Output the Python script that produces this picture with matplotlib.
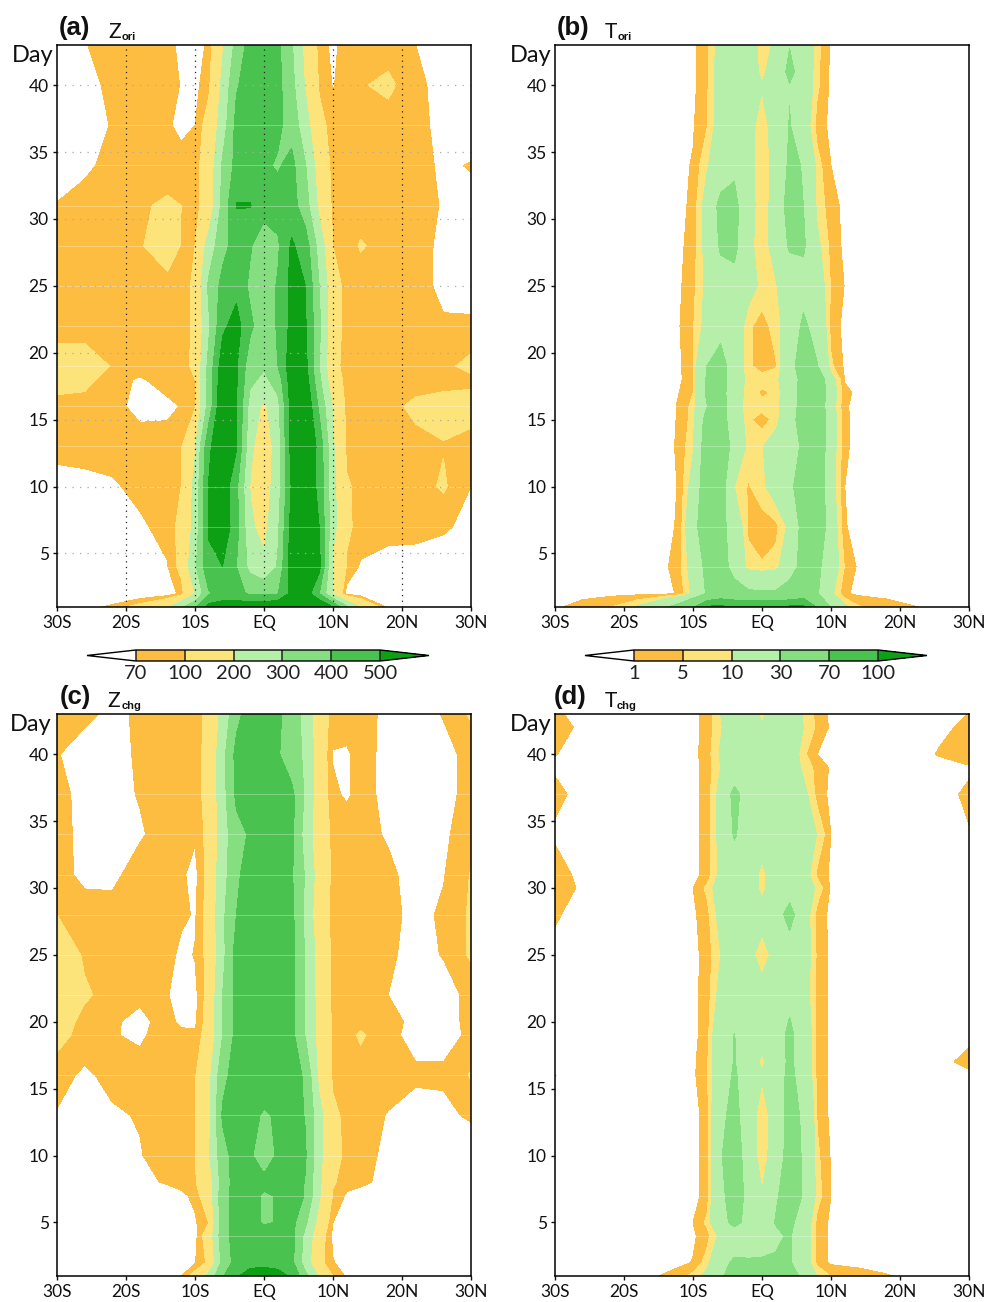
import matplotlib
matplotlib.use('Agg')
import matplotlib.pyplot as plt
from matplotlib.colors import ListedColormap, BoundaryNorm
import numpy as np

W, H = 985, 1302

lat = [-30, -26, -22, -18, -14, -12, -10, -8, -6, -4, -2, 0, 2, 4, 6, 8, 10, 12, 14, 18, 22, 26, 30]

levels_z = [70, 100, 200, 300, 400, 500]
levels_t = [1, 5, 10, 30, 70, 100]
colors = ['#fdbd40', '#fce37a', '#b6efa9', '#85df80', '#4ac24f']
color_under = '#ffffff'
color_over = '#0da015'

x_ticks = [-30, -20, -10, 0, 10, 20, 30]
x_labels = ['30S', '20S', '10S', 'EQ', '10N', '20N', '30N']
y_ticks = [5, 10, 15, 20, 25, 30, 35, 40]
seam_days = [4, 7, 10, 13, 16, 19, 22, 25, 28, 31, 34, 37]

# (a) Z ori
days_a = [1, 2, 4, 7, 10, 13, 16, 18, 19, 22, 25, 28, 31, 34, 37, 40, 43]
z_ori = [
    [40, 55, 78, 120, 185, 285, 380, 540, 560, 570, 580, 580, 600, 640, 650, 620, 500, 320, 190, 60, 40, 40, 40],
    [30, 30, 35, 40, 50, 80, 200, 390, 430, 420, 390, 385, 395, 530, 560, 400, 190, 55, 45, 40, 35, 30, 30],
    [45, 50, 55, 58, 68, 115, 280, 480, 499, 400, 270, 220, 310, 560, 600, 530, 180, 97, 65, 50, 50, 50, 50],
    [40, 45, 55, 65, 80, 115, 230, 510, 570, 440, 215, 170, 280, 540, 600, 500, 230, 105, 92, 88, 85, 75, 60],
    [60, 62, 66, 78, 88, 100, 225, 505, 570, 420, 195, 150, 250, 510, 590, 470, 225, 105, 90, 88, 85, 105, 70],
    [78, 80, 82, 85, 88, 95, 190, 480, 590, 510, 220, 140, 240, 540, 600, 470, 210, 90, 88, 88, 90, 98, 90],
    [85, 88, 80, 60, 60, 72, 95, 340, 600, 505, 260, 180, 270, 540, 600, 380, 190, 85, 86, 90, 108, 112, 112],
    [120, 110, 85, 65, 88, 92, 100, 330, 580, 510, 320, 280, 340, 560, 550, 320, 130, 86, 86, 86, 85, 90, 93],
    [125, 120, 98, 92, 90, 92, 105, 330, 560, 510, 340, 310, 400, 560, 530, 300, 115, 85, 86, 86, 85, 92, 110],
    [80, 85, 86, 86, 86, 90, 105, 285, 480, 540, 420, 340, 410, 530, 510, 320, 120, 88, 86, 86, 85, 74, 78],
    [84, 86, 86, 86, 86, 90, 105, 320, 430, 470, 380, 340, 410, 530, 500, 300, 125, 85, 85, 85, 82, 62, 50],
    [86, 86, 82, 96, 125, 98, 100, 240, 370, 440, 410, 340, 385, 515, 450, 260, 100, 85, 103, 88, 80, 64, 60],
    [72, 85, 88, 96, 105, 100, 85, 130, 330, 505, 505, 440, 440, 440, 345, 175, 88, 85, 85, 85, 80, 68, 60],
    [50, 62, 82, 86, 86, 85, 85, 130, 315, 430, 430, 415, 390, 430, 305, 150, 85, 85, 85, 85, 80, 65, 72],
    [50, 55, 72, 85, 75, 60, 70, 125, 245, 430, 455, 440, 420, 360, 240, 115, 85, 85, 85, 85, 80, 60, 50],
    [50, 55, 80, 85, 85, 68, 60, 90, 220, 390, 450, 450, 430, 330, 190, 95, 68, 85, 97, 108, 80, 55, 50],
    [50, 68, 85, 85, 80, 62, 58, 75, 190, 330, 440, 470, 420, 310, 170, 85, 62, 85, 85, 85, 70, 55, 50],
]

# (b) T ori
days_b = [1, 2, 4, 7, 10, 13, 15, 16, 17, 18, 19, 22, 25, 28, 31, 34, 37, 40, 41, 43]
t_ori = [
    [0.5, 2.2, 4.9, 11, 27, 40, 65, 105, 105, 102, 102, 101, 102, 105, 105, 68, 28, 12, 5.5, 2.5, 1.1, 0.4, 0.2],
    [0, 0, 0, 0, 0, 1.5, 12, 32, 48, 40, 34, 33, 33, 40, 50, 32, 12, 1.5, 0.2, 0, 0, 0, 0],
    [0, 0, 0, 0, 0.3, 3.5, 14, 36, 40, 22, 7, 5.5, 7, 20, 38, 35, 17, 4.5, 0.2, 0, 0, 0, 0],
    [0, 0, 0, 0, 0, 1.5, 20, 50, 38, 18, 4, 2.5, 3.5, 12, 38, 50, 17, 1.2, 0, 0, 0, 0, 0],
    [0, 0, 0, 0, 0, 1.2, 14, 45, 40, 10, 4.5, 8, 15, 24, 45, 48, 14, 1, 0, 0, 0, 0, 0],
    [0, 0, 0, 0, 0, 1.5, 9, 42, 45, 22, 7.5, 9.5, 15, 22, 33, 50, 15, 1.5, 0, 0, 0, 0, 0],
    [0, 0, 0, 0, 0, 1.3, 7, 38, 40, 18, 6, 2.5, 7, 20, 42, 52, 16, 1.5, 0, 0, 0, 0, 0],
    [0, 0, 0, 0, 0, 1.3, 6.5, 29, 42, 14, 7, 7, 7.5, 18, 40, 50, 14, 1.4, 0, 0, 0, 0, 0],
    [0, 0, 0, 0, 0, 1, 5, 33, 40, 14, 8, 4, 6, 18, 40, 50, 16, 2, 0, 0, 0, 0, 0],
    [0, 0, 0, 0, 0, 0.2, 4, 32, 42, 15, 8, 7, 8, 17, 38, 50, 14, 0.7, 0, 0, 0, 0, 0],
    [0, 0, 0, 0, 0, 0.2, 4.5, 30, 40, 18, 6, 3, 4.5, 20, 45, 31, 6, 0.2, 0, 0, 0, 0, 0],
    [0, 0, 0, 0, 0, 0.8, 4.5, 13, 22, 18, 6, 3, 7, 15, 34, 22, 3, 0, 0, 0, 0, 0, 0],
    [0, 0, 0, 0, 0, 0.4, 3.5, 12, 20, 22, 14, 8, 9.5, 15, 22, 16, 4.5, 0.8, 0, 0, 0, 0, 0],
    [0, 0, 0, 0, 0, 0.2, 2.5, 13, 33, 36, 12, 7, 13, 33, 33, 12, 3.5, 0, 0, 0, 0, 0, 0],
    [0, 0, 0, 0, 0, 0, 1.8, 14, 36, 36, 14, 6, 14, 40, 30, 8, 2.5, 0, 0, 0, 0, 0, 0],
    [0, 0, 0, 0, 0, 0, 1.3, 9, 17, 26, 13, 6, 13, 34, 29, 7, 1, 0, 0, 0, 0, 0, 0],
    [0, 0, 0, 0, 0, 0, 0.6, 4.5, 15, 22, 13, 7, 14, 31, 16, 3, 0, 0, 0, 0, 0, 0, 0],
    [0, 0, 0, 0, 0, 0, 0, 4, 15, 20, 20, 10.5, 20, 29, 19, 6, 0, 0, 0, 0, 0, 0, 0],
    [0, 0, 0, 0, 0, 0, 0, 3.5, 15, 20, 14, 8.5, 14, 36, 19, 6, 0, 0, 0, 0, 0, 0, 0],
    [0, 0, 0, 0, 0, 0, 0, 3.5, 14, 22, 14, 8, 11, 29, 20, 6.5, 0.5, 0, 0, 0, 0, 0, 0],
]

# (c) Z chg
days_c = [1, 2, 4, 5, 7, 8, 10, 13, 16, 19, 20, 22, 25, 28, 31, 34, 37, 40, 43]
z_chg = [
    [40, 40, 40, 45, 55, 68, 120, 230, 390, 490, 540, 545, 530, 490, 330, 190, 100, 65, 50, 45, 40, 40, 40],
    [45, 45, 45, 45, 50, 55, 68, 110, 330, 440, 470, 475, 470, 430, 250, 115, 72, 55, 50, 45, 45, 45, 45],
    [45, 45, 45, 48, 50, 50, 58, 135, 360, 440, 450, 450, 450, 430, 270, 130, 62, 50, 50, 48, 45, 45, 45],
    [45, 48, 50, 55, 58, 58, 65, 100, 360, 440, 430, 390, 405, 430, 320, 160, 70, 58, 55, 50, 50, 48, 45],
    [45, 48, 50, 55, 60, 62, 78, 145, 360, 440, 425, 390, 405, 440, 395, 210, 95, 65, 55, 50, 50, 48, 45],
    [50, 52, 58, 65, 72, 82, 95, 150, 345, 445, 445, 420, 440, 445, 395, 215, 105, 82, 78, 58, 55, 50, 45],
    [45, 50, 58, 68, 85, 92, 98, 190, 360, 445, 410, 360, 410, 440, 410, 225, 115, 92, 82, 62, 55, 50, 45],
    [68, 62, 66, 72, 85, 90, 95, 170, 415, 440, 425, 390, 410, 440, 395, 235, 110, 90, 85, 68, 58, 62, 75],
    [80, 65, 78, 82, 86, 88, 95, 170, 370, 445, 450, 450, 450, 445, 385, 170, 92, 88, 86, 85, 75, 75, 103],
    [115, 85, 72, 65, 85, 82, 78, 125, 300, 430, 450, 455, 450, 430, 295, 165, 90, 88, 105, 78, 60, 60, 75],
    [120, 90, 75, 60, 85, 60, 62, 125, 300, 430, 450, 455, 450, 430, 295, 165, 90, 88, 90, 80, 62, 58, 78],
    [130, 105, 88, 78, 72, 55, 60, 120, 300, 430, 450, 455, 450, 425, 290, 160, 88, 86, 85, 70, 55, 55, 80],
    [130, 95, 88, 88, 85, 60, 72, 115, 270, 440, 450, 455, 450, 425, 290, 160, 88, 86, 85, 76, 58, 72, 105],
    [100, 88, 82, 85, 85, 78, 66, 120, 280, 400, 450, 455, 450, 425, 280, 130, 88, 86, 85, 80, 60, 75, 105],
    [85, 60, 62, 85, 85, 75, 60, 118, 260, 380, 450, 455, 450, 410, 290, 150, 88, 85, 85, 78, 55, 68, 102],
    [80, 62, 60, 66, 85, 85, 74, 115, 250, 370, 410, 430, 430, 430, 255, 140, 88, 85, 82, 66, 58, 65, 85],
    [78, 62, 60, 72, 85, 85, 86, 115, 260, 420, 450, 455, 450, 425, 285, 140, 75, 66, 80, 62, 58, 62, 78],
    [72, 55, 58, 75, 85, 85, 86, 115, 265, 430, 450, 450, 410, 340, 285, 140, 68, 66, 80, 62, 55, 60, 80],
    [85, 78, 62, 75, 85, 85, 86, 110, 230, 370, 450, 450, 420, 350, 270, 130, 86, 85, 82, 62, 55, 72, 105],
]

# (d) T chg
days_d = [1, 2, 4, 5, 7, 10, 13, 16, 17, 19, 22, 25, 28, 30, 31, 34, 37, 39, 40, 42, 43]
t_chg = [
    [0, 0, 0, 0, 1.3, 3, 6.5, 13, 27, 40, 40, 38, 40, 40, 25, 9.5, 4.8, 3.5, 2.5, 1.2, 0.3, 0, 0],
    [0, 0, 0, 0, 0, 0, 1.2, 7, 24, 33, 32, 32, 32, 32, 16, 3.5, 0.3, 0, 0, 0, 0, 0, 0],
    [0, 0, 0, 0, 0, 0, 0.3, 3.2, 12, 18, 20, 22, 27, 32, 16, 3.5, 0.2, 0, 0, 0, 0, 0, 0],
    [0, 0, 0, 0, 0, 0, 1, 6, 22, 36, 24, 20, 31, 36, 18, 3.5, 0.2, 0, 0, 0, 0, 0, 0],
    [0, 0, 0, 0, 0, 0, 0, 2, 26, 38, 26, 10.8, 28, 38, 29, 7, 1, 0, 0, 0, 0, 0, 0],
    [0, 0, 0, 0, 0, 0, 0, 2, 28, 45, 17, 5.5, 16, 40, 28, 6, 0.6, 0, 0, 0, 0, 0, 0],
    [0, 0, 0, 0, 0, 0, 0, 2, 24, 38, 16, 5.5, 15, 38, 27, 4.5, 0, 0, 0, 0, 0, 0, 0],
    [1.05, 0, 0, 0, 0, 0, 0.1, 4.5, 18, 33, 18, 11, 18, 36, 20, 3.5, 0, 0, 0, 0, 0, 0, 0],
    [0, 0, 0, 0, 0, 0, 0.1, 4, 18, 31, 18, 8, 18, 34, 20, 3.5, 0, 0, 0, 0, 0, 0, 2.2],
    [0, 0, 0, 0, 0, 0, 0, 2.6, 20, 30.5, 18, 15, 20, 35, 19, 3.5, 0, 0, 0, 0, 0, 0, 0],
    [0, 0, 0, 0, 0, 0, 0, 2.4, 13, 16, 16, 15, 16, 24, 15, 3.6, 0, 0, 0, 0, 0, 0, 0],
    [0.3, 0, 0, 0, 0, 0, 0, 2.2, 10, 18, 14, 5.2, 14, 18, 16, 4, 0, 0, 0, 0, 0, 0, 0],
    [1.3, 0, 0, 0, 0, 0, 0.2, 3.2, 13, 18, 18, 15, 20, 38, 16, 3.2, 0, 0, 0, 0, 0, 0, 0],
    [4, 0, 0, 0, 0, 0, 1, 6, 15, 18, 18, 7, 18, 20, 18, 8, 0.3, 0, 0, 0, 0, 0, 0],
    [2.5, 0, 0, 0, 0, 0, 0, 2, 12, 18, 18, 7, 18, 20, 15, 4, 0.2, 0, 0, 0, 0, 0, 0],
    [0.5, 0, 0, 0, 0, 0, 0, 2.2, 13, 32, 20, 16, 18, 20, 20, 9.5, 1, 0, 0, 0, 0, 0, 0.8],
    [1.8, 0, 0, 0, 0, 0, 0, 2.2, 13, 36, 20, 18, 18, 20, 13, 3.2, 0, 0, 0, 0, 0, 0, 1.6],
    [0.6, 0, 0, 0, 0, 0, 0, 2, 10, 16, 18, 18, 18, 18, 8, 3.6, 0.4, 0, 0, 0, 0, 0, 0.5],
    [1.1, 0, 0, 0, 0, 0, 0, 2.5, 11, 16, 18, 18, 18, 18, 6, 1, 0, 0, 0, 0, 0, 1.3, 3.5],
    [3, 0, 0, 0, 0, 0, 0, 2, 9, 18, 18, 11, 18, 18, 10, 4, 0.3, 0, 0, 0, 0, 0.5, 1.6],
    [1.5, 0, 0, 0, 0, 0, 0, 2, 10, 18, 16, 8, 16, 18, 9, 3.5, 0, 0, 0, 0, 0, 0, 1.05],
]

plt.rcParams['font.family'] = ['Lato', 'DejaVu Sans']

fig = plt.figure(figsize=(W / 100, H / 100), dpi=100)


def box(x0, y0, x1, y1):
    # pixel box, y from the top of the picture
    return [x0 / W, 1 - y1 / H, (x1 - x0) / W, (y1 - y0) / H]


def put(x, y, s, **kw):
    fig.text(x / W, 1 - y / H, s, va='baseline', **kw)


cmap = ListedColormap(colors)
cmap.set_under(color_under)
cmap.set_over(color_over)

panels = [
    # tag, main, sub, days, field, levels, left, top, x positions, baselines, day label right edge
    ('(a)', 'Z', 'ori', days_a, z_ori, levels_z, 57, 45, (59, 108, 122), (35, 38, 40), 54),
    ('(b)', 'T', 'ori', days_b, t_ori, levels_t, 555, 45, (557, 605, 618), (35, 38, 40), 552),
    ('(c)', 'Z', 'chg', days_c, z_chg, levels_z, 57, 714, (60, 107, 122), (704, 707, 709), 52),
    ('(d)', 'T', 'chg', days_d, t_chg, levels_t, 555, 714, (554, 605, 617), (704, 707, 709), 551),
]

for tag, main, sub, days, field, levels, left, top, xs, ys, day_x in panels:
    ax = fig.add_axes(box(left, top, left + 414, top + 562))
    norm = BoundaryNorm(levels, len(colors))
    cf = ax.contourf(lat, days, np.array(field), levels=levels, cmap=cmap, norm=norm, extend='both')
    ax.hlines(seam_days, -30, 30, colors='white', linewidth=0.6, alpha=0.35, zorder=2)

    ax.set_xlim(-30, 30)
    ax.set_ylim(1, 43)
    ax.set_xticks(x_ticks)
    ax.set_xticklabels(x_labels)
    ax.set_yticks(y_ticks)
    ax.tick_params(labelsize=12.5, length=3, width=1, pad=3, colors='#111111')
    for s in ax.spines.values():
        s.set_linewidth(1.1)
        s.set_zorder(5)

    if tag == '(a)':
        ax.hlines(y_ticks, -30, 30, colors='#aaaaaa', linewidth=0.9, linestyles=(0, (1, 5)), zorder=3)
        ax.vlines(x_ticks[1:-1], 1, 43, colors='#222222', linewidth=0.9, linestyles=(0, (1, 3.5)), zorder=3)

    put(xs[0], ys[0], tag, family='Liberation Sans', fontweight='bold', fontsize=18.5, color='#111111')
    put(xs[1], ys[1], main, fontsize=15, color='#111111')
    put(xs[2], ys[2], sub, family='Liberation Sans', fontweight='bold', fontsize=8, color='#111111')
    put(day_x, top + 17, 'Day', fontsize=17, ha='right', color='#111111')

    if top == 45:
        cax = fig.add_axes(box(left + 30, 650, left + 372, 661))
        cb = fig.colorbar(cf, cax=cax, orientation='horizontal', ticks=levels, extendfrac=0.2,
                          drawedges=True, spacing='uniform')
        cb.ax.set_xticklabels([str(v) for v in levels])
        cb.ax.tick_params(length=0, labelsize=14.5, pad=3, colors='#222222')
        cb.outline.set_linewidth(1)
        cb.dividers.set_color('#222222')
        cb.dividers.set_linewidth(1.1)

fig.savefig('out.png', dpi=100)
